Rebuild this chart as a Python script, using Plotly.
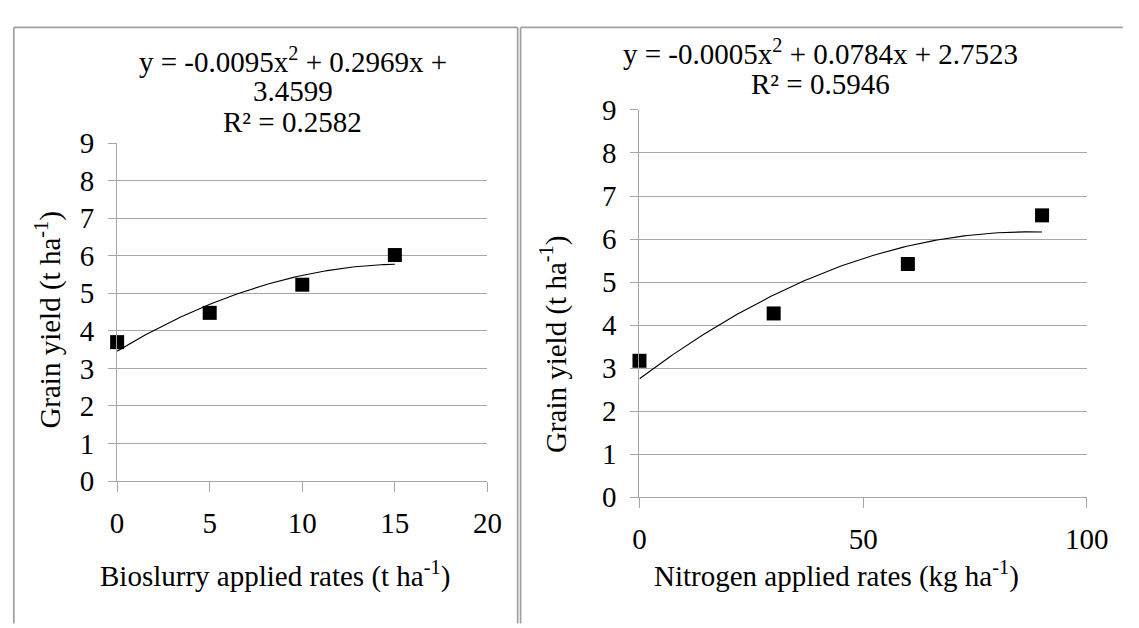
import numpy as np
import plotly.graph_objects as go

# ---------------- data ----------------
bio_rates = [0, 5, 10, 15]
bio_yield = [3.70, 4.48, 5.23, 6.02]
bio_curve = [-0.0095, 0.2969, 3.4599]          # quadratic trendline a, b, c
bio_fit_text = ["y = -0.0095x<sup>2</sup> + 0.2969x +", "3.4599", "R² = 0.2582"]

n_rates = [0, 30, 60, 90]
n_yield = [3.17, 4.27, 5.42, 6.55]
n_curve = [-0.00045, 0.0784, 2.7523]           # trendline as drawn (label shows rounded a)
n_fit_text = ["y = -0.0005x<sup>2</sup> + 0.0784x + 2.7523", "R² = 0.5946"]

y_ticks = list(range(0, 10))
bio_x_ticks = [0, 5, 10, 15, 20]
n_x_ticks = [0, 50, 100]

x_titles = ["Bioslurry applied rates (t ha<sup>-1</sup>)", "Nitrogen applied rates (kg ha<sup>-1</sup>)"]
y_title = "Grain yield (t ha<sup>-1</sup>)"

# ---------------- layout helpers ----------------
W, H = 1139, 628
FONT = "Liberation Serif"
FS = 29
GRID = "#a6a6a6"


def px(x):
    return x / W


def py(y):
    return 1 - y / H


def trend(coefs, x_max):
    xs = np.linspace(0, x_max, 120)
    a, b, c = coefs
    return xs, a * xs ** 2 + b * xs + c


fig = go.Figure()

# left panel
tx, ty = trend(bio_curve, bio_rates[-1])
fig.add_trace(go.Scatter(x=tx, y=ty, mode="lines", line=dict(color="black", width=1.1),
                         xaxis="x", yaxis="y", hoverinfo="skip"))
fig.add_trace(go.Scatter(x=bio_rates, y=bio_yield, mode="markers",
                         marker=dict(symbol="square", size=14, color="black"),
                         cliponaxis=False, xaxis="x", yaxis="y"))
# right panel
tx, ty = trend(n_curve, n_rates[-1])
fig.add_trace(go.Scatter(x=tx, y=ty, mode="lines", line=dict(color="black", width=1.1),
                         xaxis="x2", yaxis="y2", hoverinfo="skip"))
fig.add_trace(go.Scatter(x=n_rates, y=n_yield, mode="markers",
                         marker=dict(symbol="square", size=14, color="black"),
                         cliponaxis=False, xaxis="x2", yaxis="y2"))

tick_font = dict(family=FONT, size=FS, color="black")
common_x = dict(showgrid=False, zeroline=False, showline=True, linecolor=GRID, linewidth=1.2,
                ticks="outside", ticklen=10, tickcolor=GRID, tickwidth=1.2,
                ticklabelstandoff=6, tickfont=tick_font, fixedrange=True)
common_y = dict(showgrid=True, gridcolor=GRID, gridwidth=1.2, zeroline=False, showline=True,
                linecolor=GRID, linewidth=1.2, ticks="outside", ticklen=8, tickcolor=GRID,
                tickwidth=1.2, tickfont=tick_font, ticklabelstandoff=8,
                tickmode="array", tickvals=y_ticks, range=[0, 9], fixedrange=True)

fig.update_layout(
    width=W, height=H, margin=dict(l=0, r=0, t=0, b=0),
    paper_bgcolor="white", plot_bgcolor="white", showlegend=False,
    font=dict(family=FONT, size=FS, color="black"),
    xaxis=dict(domain=[px(113), px(493)], range=[0, 20], tickmode="array", tickvals=bio_x_ticks,
               anchor="y", **common_x),
    yaxis=dict(domain=[py(490), py(134)], anchor="x", **common_y),
    xaxis2=dict(domain=[px(649), px(1108)], range=[0, 100], tickmode="array", tickvals=n_x_ticks,
                anchor="y2", **common_x),
    yaxis2=dict(domain=[py(507), py(99)], anchor="x2", **common_y),
)

# panel borders
border = dict(color="#a0a0a0", width=1.7)
for (x0, y0, x1, y1) in [(7, 12, 7, 640), (7, 12, 524, 12), (524, 12, 524, 640),
                         (527, 12, 527, 640), (527, 12, 1145, 12)]:
    fig.add_shape(type="line", xref="paper", yref="paper",
                  x0=px(x0), y0=py(y0), x1=px(x1), y1=py(y1), line=border)

ann_font = dict(family=FONT, size=FS, color="black")
# equations
for text, ycen in zip(bio_fit_text, [46, 79, 112]):
    fig.add_annotation(text=text, x=px(293), y=py(ycen), xref="paper", yref="paper",
                       showarrow=False, xanchor="center", yanchor="middle", borderpad=0,
                       font=ann_font)
for text, ycen in zip(n_fit_text, [38, 72]):
    fig.add_annotation(text=text, x=px(835), y=py(ycen), xref="paper", yref="paper",
                       showarrow=False, xanchor="center", yanchor="middle", borderpad=0,
                       font=ann_font)
# axis titles
fig.add_annotation(text=x_titles[0], x=px(275), y=py(588), xref="paper", yref="paper",
                   showarrow=False, xanchor="center", yanchor="middle", font=ann_font)
fig.add_annotation(text=x_titles[1], x=px(851), y=py(589), xref="paper", yref="paper",
                   showarrow=False, xanchor="center", yanchor="middle", font=ann_font)
fig.add_annotation(text=y_title, x=px(43), y=py(320), xref="paper", yref="paper", textangle=-90,
                   showarrow=False, xanchor="center", yanchor="middle", font=ann_font)
fig.add_annotation(text=y_title, x=px(561), y=py(346), xref="paper", yref="paper", textangle=-90,
                   showarrow=False, xanchor="center", yanchor="middle", font=ann_font)

fig.write_html("out.html")
